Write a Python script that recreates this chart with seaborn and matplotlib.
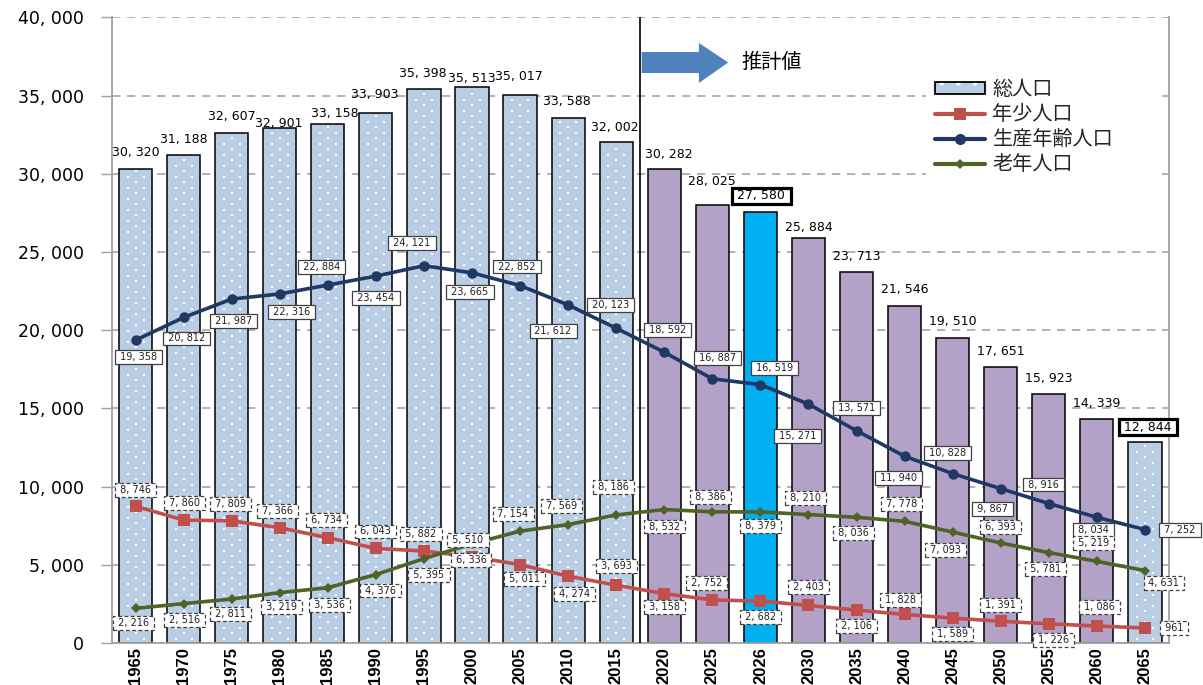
import numpy as np
import pandas as pd
import matplotlib
matplotlib.use("Agg")
import matplotlib.pyplot as plt
import matplotlib.font_manager as fm
from matplotlib.patches import Patch, Polygon, Rectangle
from matplotlib.lines import Line2D
from matplotlib.legend_handler import HandlerTuple
import seaborn as sns

# ---- data (千人) ----
years = ["1965", "1970", "1975", "1980", "1985", "1990", "1995", "2000", "2005",
         "2010", "2015", "2020", "2025", "2026", "2030", "2035", "2040", "2045",
         "2050", "2055", "2060", "2065"]
total = [30320, 31188, 32607, 32901, 33158, 33903, 35398, 35513, 35017, 33588,
         32002, 30282, 28025, 27580, 25884, 23713, 21546, 19510, 17651, 15923,
         14339, 12844]
youth = [8746, 7860, 7809, 7366, 6734, 6043, 5882, 5510, 5011, 4274, 3693,
         3158, 2752, 2682, 2403, 2106, 1828, 1589, 1391, 1226, 1086, 961]
working = [19358, 20812, 21987, 22316, 22884, 23454, 24121, 23665, 22852, 21612,
           20123, 18592, 16887, 16519, 15271, 13571, 11940, 10828, 9867, 8916,
           8034, 7252]
elderly = [2216, 2516, 2811, 3219, 3536, 4376, 5395, 6336, 7154, 7569, 8186,
           8532, 8386, 8379, 8210, 8036, 7778, 7093, 6393, 5781, 5219, 4631]
legend_labels = ["総人口", "年少人口", "生産年齢人口", "老年人口"]
projection_label = "推計値"
first_projection_year = "2020"
highlight_years = ["2026", "2065"]

# ---- styling ----
C_PAST = "#B9CDE5"
C_FUTURE = "#B3A2C7"
C_HIGHLIGHT = "#00B0F0"
C_YOUTH = "#C0504D"
C_WORK = "#1F3864"
C_OLD = "#4F6228"
C_ARROW = "#4F81BD"
C_AXIS = "#A0A0A0"


def bar_color(y):
    if y == "2026":
        return C_HIGHLIGHT
    if int(y) < int(first_projection_year) or y == "2065":
        return C_PAST
    return C_FUTURE


def fmt(v):
    return f"{v:,}".replace(",", ", ")


# label offsets in pixels: (right, down)
total_off = [(0, -16), (0, -16), (0, -16), (-1, -5), (7, -11), (-1, -18), (-1, -16),
             (0, -9), (-1, -19), (-1, -16), (-1, -15), (5, -15), (0, -23), (1, -16),
             (0, -11), (0, -16), (0, -16), (0, -16), (0, -15), (0, -15), (0, -15),
             (3, -15)]
work_off = [(3, 17), (3, 21), (2, 22), (12, 18), (-6, -18), (0, 22), (-12, -23),
            (-2, 19), (-3, -19), (-15, 26), (-6, -23), (3, -22), (5, -21), (14, -17),
            (-11, 32), (0, -23), (-6, 22), (-5, -21), (-8, 20), (-5, -19), (-3, 13),
            (35, 0)]
youth_off = [(0, -16), (1, -17), (-1, -17), (-2, -17), (-1, -18), (0, -17), (-3, -17),
             (-4, -17), (4, 14), (6, 18), (0, -19), (0, 13), (-6, -17), (0, 16),
             (0, -18), (0, 16), (-4, -14), (0, 16), (0, -16), (5, 16), (3, -19),
             (29, 0)]
old_off = [(-2, 15), (1, 16), (-1, 15), (2, 14), (2, 17), (5, 16), (5, 16), (-1, 16),
           (-7, -17), (-7, -19), (-3, -28), (0, 17), (-2, -15), (0, 14), (-3, -17),
           (-3, 16), (-3, -17), (-7, 18), (0, -16), (-3, 16), (-3, -18), (19, 12)]

sns.set_theme(style="white")
plt.rcParams["font.family"] = ["Noto Sans CJK JP", "DejaVu Sans"]
plt.rcParams["hatch.linewidth"] = 0.8

installed = {f.name for f in fm.fontManager.ttflist}
xtick_font = "Liberation Sans Narrow" if "Liberation Sans Narrow" in installed else "Liberation Sans"
xtick_size = 13 if xtick_font == "Liberation Sans Narrow" else 12

FIG_W, FIG_H = 1203, 685
AX_L, AX_R, AX_T, AX_B = 111.5, 1169, 17.3, 643
fig = plt.figure(figsize=(FIG_W / 100, FIG_H / 100), dpi=100)
ax = fig.add_axes([AX_L / FIG_W, 1 - AX_B / FIG_H, (AX_R - AX_L) / FIG_W,
                   (AX_B - AX_T) / FIG_H])

n = len(years)
YMAX = 40000
px_x = n / (AX_R - AX_L)           # data units per pixel, x
px_y = YMAX / (AX_B - AX_T)        # data units per pixel, y

pos = np.arange(n)
df = pd.DataFrame({"pos": pos, "year": years, "total": total,
                   "youth": youth, "working": working, "elderly": elderly})

# bars
palette = {y: bar_color(y) for y in years}
sns.barplot(data=df, x="pos", y="total", hue="year", palette=palette, native_scale=True,
            dodge=False, legend=False, width=0.69, saturation=1, edgecolor="none",
            linewidth=0, ax=ax, zorder=2)
bars = sorted(ax.patches, key=lambda p: p.get_x())
dot_x, dot_y = [], []
for p, y in zip(bars, years):
    ax.add_patch(Rectangle(p.get_xy(), p.get_width(), p.get_height(), fill=False,
                           ec="black", lw=1.1, zorder=2.2))
    if bar_color(y) == C_PAST:
        # staggered white dot texture inside the bar
        xc = p.get_x() + p.get_width() / 2
        step = 5.5 * px_y
        shift = 8 * px_x
        for k, yy in enumerate(np.arange(step * 0.8, p.get_height() - step * 0.4, step)):
            xs = [xc - shift, xc + shift] if k % 2 == 0 else [xc]
            dot_x += xs
            dot_y += [yy] * len(xs)
ax.scatter(dot_x, dot_y, marker="s", s=2.0, c="white", linewidths=0, zorder=2.1)

# population lines
line_specs = [("youth", C_YOUTH, "s", 8), ("working", C_WORK, "o", 7.5),
              ("elderly", C_OLD, "D", 5)]
for col, c, m, ms in line_specs:
    sns.lineplot(data=df, x="pos", y=col, color=c, marker=m, markersize=ms,
                 markeredgecolor=c, markeredgewidth=0, linewidth=2.6, sort=False,
                 ax=ax, zorder=4)

# total labels above bars
for i, (v, (dx, dy)) in enumerate(zip(total, total_off)):
    kw = {}
    txt = fmt(v)
    if years[i] in highlight_years:
        txt = f" {txt} "
        kw["bbox"] = dict(boxstyle="square,pad=0.12", fc="white", ec="black", lw=2.3)
    ax.annotate(txt, (i, v), xytext=(dx * 0.72, -dy * 0.72), textcoords="offset points",
                ha="center", va="center", fontsize=9, family="DejaVu Sans",
                color="black", zorder=7, **kw)

# line value boxes
for vals, offs, ls, z in [(working, work_off, "-", 6), (youth, youth_off, (0, (3, 2)), 6.2),
                          (elderly, old_off, (0, (3, 2)), 6.4)]:
    for i, (v, (dx, dy)) in enumerate(zip(vals, offs)):
        ax.annotate(f" {fmt(v)} ", (i, v), xytext=(dx * 0.72, -dy * 0.72),
                    textcoords="offset points", ha="center", va="center", fontsize=7,
                    family="DejaVu Sans", color="#202020", zorder=z,
                    bbox=dict(boxstyle="square,pad=0.2", fc="white", ec="#404040",
                              lw=0.9, ls=ls))

# boundary between actual and projected values
split = years.index(first_projection_year) - 0.5
ax.axvline(split, color="black", lw=1.2, zorder=3)
arrow = Polygon([(split + 0.03, 36440), (split + 1.22, 36440), (split + 1.22, 35800),
                 (split + 1.83, 37110), (split + 1.22, 38360), (split + 1.22, 37780),
                 (split + 0.03, 37780)], closed=True, fc=C_ARROW, ec="none", zorder=3)
ax.add_patch(arrow)
ax.text(split + 2.74, 37110, projection_label, ha="center", va="center",
        fontsize=14.5, color="black", zorder=5)

# axes
ax.set_xlim(-0.5, n - 0.5)
ax.set_ylim(0, YMAX)
yt = list(range(0, YMAX + 1, 5000))
ax.set_yticks(yt)
ax.set_yticklabels([fmt(v) for v in yt], fontsize=12.5, family="DejaVu Sans", color="black")
ax.set_xticks(pos)
ax.set_xticklabels(years, rotation=90, fontsize=xtick_size, family=xtick_font,
                   fontweight="bold", color="black")
ax.set_xticks(np.arange(-0.5, n, 1), minor=True)
ax.tick_params(axis="x", which="major", length=0, pad=3)
ax.tick_params(axis="x", which="minor", length=5, width=1, color=C_AXIS, direction="out")
ax.tick_params(axis="y", length=8, width=1, color=C_AXIS, direction="out", pad=12, left=True)
ax.set_xlabel("")
ax.set_ylabel("")
ax.grid(axis="y", ls=(0, (5, 4)), color="#A6A6A6", lw=1.2)
ax.grid(axis="x", visible=False)
ax.set_axisbelow(True)
for side in ["left", "bottom", "right"]:
    ax.spines[side].set_visible(True)
    ax.spines[side].set_color(C_AXIS)
    ax.spines[side].set_linewidth(1.3)
ax.spines["top"].set_visible(False)

# legend
h_total = (Patch(fc=C_PAST, ec="white", hatch=".", lw=0),
           Patch(fc="none", ec="black", lw=1.3))
handles = [h_total,
           Line2D([0], [0], color=C_YOUTH, lw=3, marker="s", markersize=9, mew=0),
           Line2D([0], [0], color=C_WORK, lw=3, marker="o", markersize=8, mew=0),
           Line2D([0], [0], color=C_OLD, lw=3, marker="D", markersize=5, mew=0)]
leg = ax.legend(handles, legend_labels,
                handler_map={tuple: HandlerTuple(ndivide=1, pad=0)},
                loc="upper left", bbox_to_anchor=(926 / FIG_W, 1 - 70 / FIG_H, 236 / FIG_W, 0),
                bbox_transform=fig.transFigure, mode="expand", frameon=True,
                fancybox=False, edgecolor="none", facecolor="white", framealpha=1,
                fontsize=14.5, handlelength=2.5, handleheight=0.5, handletextpad=0.35,
                labelspacing=0.2, borderpad=0.45, borderaxespad=0)
leg.set_zorder(8)

fig.savefig("out.png", dpi=100)
